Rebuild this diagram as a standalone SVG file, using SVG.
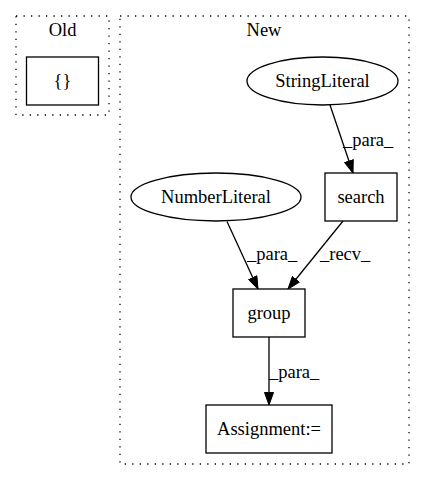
<svg xmlns="http://www.w3.org/2000/svg" width="424" height="480" viewBox="0 0 424 480">
<defs>
<style>
text{font-family:"Liberation Serif","Times New Roman",serif;font-size:18.5px;fill:#000}
.c{text-anchor:middle}
.cl{fill:none;stroke:#000;stroke-width:1.3;stroke-dasharray:1.3,6.2}
.n{fill:#fff;stroke:#000;stroke-width:1.3}
.e{fill:none;stroke:#000;stroke-width:1.3}
</style>
<marker id="ah" markerWidth="13" markerHeight="10" refX="13" refY="5" orient="auto" markerUnits="userSpaceOnUse">
<path d="M0.5,0.5 L13,5 L0.5,9.5 Z" fill="#000" stroke="#000"/>
</marker>
</defs>
<rect width="424" height="480" fill="#fff"/>
<g id="cluster_old">
<rect class="cl" x="16" y="16" width="93" height="99"/>
<text class="c" x="62.5" y="36">Old</text>
</g>
<g id="cluster_new">
<rect class="cl" x="120" y="16" width="289" height="448"/>
<text class="c" x="264" y="36">New</text>
</g>
<g id="edges">
<path class="e" d="M330,105 L353,173" marker-end="url(#ah)"/>
<text x="343" y="145.5">_para_</text>
<path class="e" d="M227,221.5 L258,289" marker-end="url(#ah)"/>
<text x="247" y="260">_para_</text>
<path class="e" d="M343,221 L288,289" marker-end="url(#ah)"/>
<text x="320" y="260">_recv_</text>
<path class="e" d="M269,337 L269,405" marker-end="url(#ah)"/>
<text x="269" y="378">_para_</text>
</g>
<g id="node_braces">
<rect class="n" x="26.5" y="57" width="72" height="48"/>
<text class="c" x="62.5" y="86.5">{}</text>
</g>
<g id="node_stringliteral">
<ellipse class="n" cx="322.5" cy="81" rx="75.5" ry="24"/>
<text class="c" x="322.5" y="86.5">StringLiteral</text>
</g>
<g id="node_search">
<rect class="n" x="325" y="173" width="72" height="48"/>
<text class="c" x="361" y="202.5">search</text>
</g>
<g id="node_numberliteral">
<ellipse class="n" cx="216" cy="197" rx="85" ry="24"/>
<text class="c" x="216" y="202.5">NumberLiteral</text>
</g>
<g id="node_group">
<rect class="n" x="233" y="289" width="72" height="48"/>
<text class="c" x="269" y="318.5">group</text>
</g>
<g id="node_assignment">
<rect class="n" x="206" y="405" width="126" height="48"/>
<text class="c" x="269" y="434.5">Assignment:=</text>
</g>
</svg>
